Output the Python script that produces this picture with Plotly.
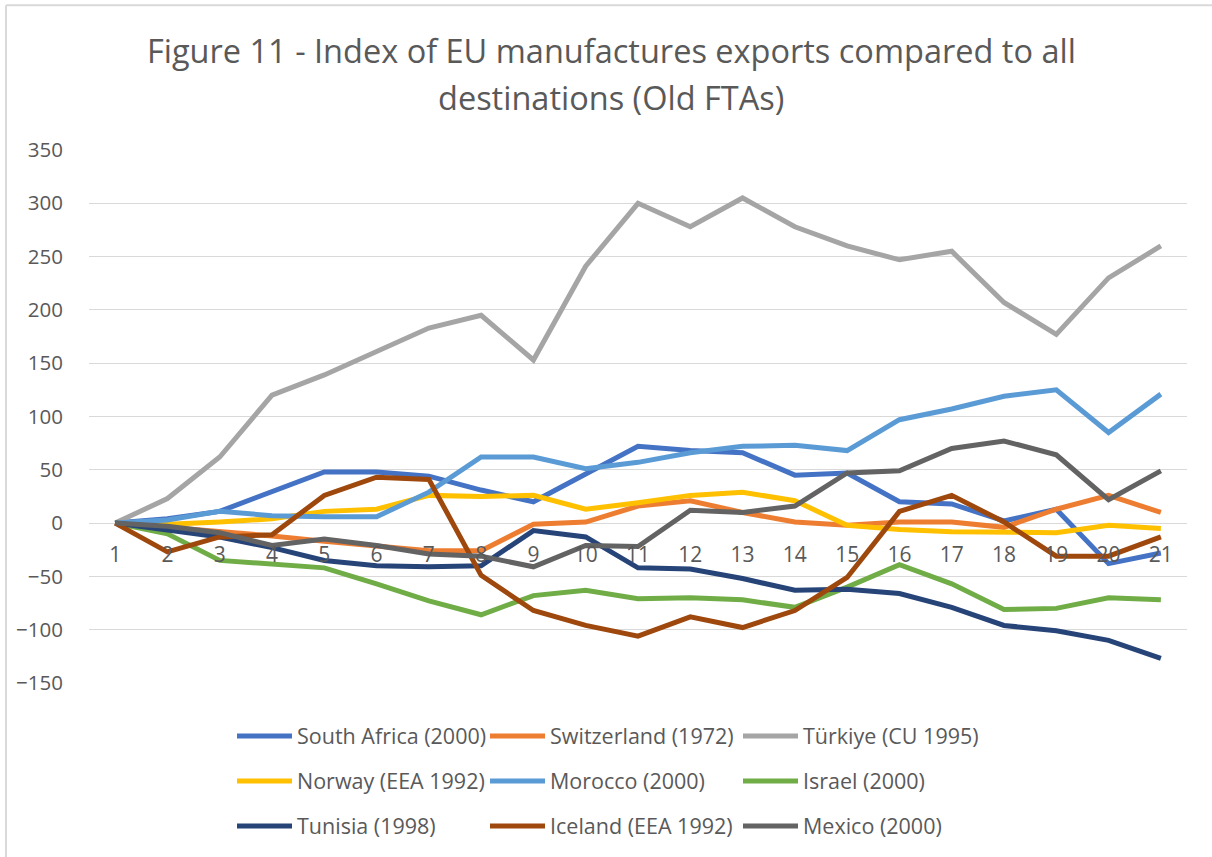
import plotly.graph_objects as go

periods = list(range(1, 22))
tick_labels = [str(p) for p in periods]

south_africa = [0, 4, 11, 29, 48, 48, 44, 31, 20, 46, 72, 68, 66, 45, 47, 20, 18, 2, 13, -38, -28]
switzerland = [0, -4, -7, -12, -17, -21, -26, -26, -1, 1, 16, 21, 10, 1, -2, 1, 1, -4, 13, 26, 10]
turkiye = [0, 23, 62, 120, 139, 161, 183, 195, 153, 241, 300, 278, 305, 278, 260, 247, 255, 207, 177, 230, 260]
norway = [0, -1, 1, 4, 11, 13, 26, 25, 26, 13, 19, 26, 29, 21, -2, -6, -8, -8, -9, -2, -5]
morocco = [0, 3, 11, 7, 6, 6, 29, 62, 62, 51, 57, 66, 72, 73, 68, 97, 107, 119, 125, 85, 121]
israel = [0, -10, -35, -38, -42, -57, -73, -86, -68, -63, -71, -70, -72, -79, -60, -39, -57, -81, -80, -70, -72]
tunisia = [0, -6, -13, -23, -35, -40, -41, -40, -7, -13, -42, -43, -52, -63, -62, -66, -79, -96, -101, -110, -127]
iceland = [0, -27, -13, -11, 26, 43, 41, -49, -82, -96, -106, -88, -98, -82, -51, 11, 26, 1, -31, -31, -13]
mexico = [0, -3, -9, -21, -15, -21, -29, -31, -41, -21, -22, 12, 10, 16, 47, 49, 70, 77, 64, 22, 49]

series = [
    ("South Africa (2000)", south_africa, "#4472C4", "legend"),
    ("Switzerland (1972)", switzerland, "#ED7D31", "legend"),
    ("Türkiye (CU 1995)", turkiye, "#A5A5A5", "legend"),
    ("Norway (EEA 1992)", norway, "#FFC000", "legend2"),
    ("Morocco (2000)", morocco, "#5B9BD5", "legend2"),
    ("Israel (2000)", israel, "#70AD47", "legend2"),
    ("Tunisia (1998)", tunisia, "#264478", "legend3"),
    ("Iceland (EEA 1992)", iceland, "#9E480E", "legend3"),
    ("Mexico (2000)", mexico, "#636363", "legend3"),
]

y_ticks = [-150, -100, -50, 0, 50, 100, 150, 200, 250, 300, 350]

fig = go.Figure()
for name, vals, color, lg in series:
    fig.add_trace(go.Scatter(
        x=periods, y=vals, mode="lines", name=name,
        line=dict(color=color, width=5), legend=lg,
    ))

W, H = 1212, 857
L, R, T, B = 89, 25, 150, 173
ph = H - T - B
pw = W - L - R

def py(px):
    return (H - B - px) / ph

def pxx(px):
    return (px - L) / pw

text_color = "#595959"
font_family = "Open Sans"

legend_common = dict(
    orientation="h", xref="paper", yref="paper", xanchor="left", yanchor="middle",
    font=dict(family=font_family, size=21.5, color=text_color),
    entrywidth=183, entrywidthmode="pixels", itemwidth=55,
    bgcolor="rgba(0,0,0,0)", traceorder="normal",
)

fig.update_layout(
    width=W, height=H,
    margin=dict(l=L, r=R, t=T, b=B, pad=0),
    paper_bgcolor="white", plot_bgcolor="white",
    font=dict(family=font_family, color=text_color),
    showlegend=True,
    legend=dict(legend_common, x=pxx(232), y=py(736)),
    legend2=dict(legend_common, x=pxx(232), y=py(781)),
    legend3=dict(legend_common, x=pxx(232), y=py(826)),
    xaxis=dict(
        range=[0.5, 21.5], tickmode="array", tickvals=periods, ticktext=tick_labels,
        showgrid=False, zeroline=False, showline=False,
        anchor="free", position=150 / 500,
        ticks="outside", ticklen=13, tickcolor="rgba(0,0,0,0)",
        tickfont=dict(family=font_family, size=21, color=text_color),
    ),
    yaxis=dict(
        range=[-150, 350], tickmode="array", tickvals=y_ticks,
        showgrid=True, gridcolor="#D9D9D9", gridwidth=1.3,
        zeroline=False, showline=False,
        ticks="outside", ticklen=21, tickcolor="rgba(0,0,0,0)",
        tickfont=dict(family=font_family, size=20.5, color=text_color),
    ),
    annotations=[
        dict(text="Figure 11 - Index of EU manufactures exports compared to all",
             xref="paper", yref="paper", x=pxx(611), y=py(50), showarrow=False,
             xanchor="center", yanchor="middle",
             font=dict(family=font_family, size=32.5, color=text_color)),
        dict(text="destinations (Old FTAs)",
             xref="paper", yref="paper", x=pxx(611), y=py(97), showarrow=False,
             xanchor="center", yanchor="middle",
             font=dict(family=font_family, size=32.5, color=text_color)),
    ],
    shapes=[
        dict(type="line", xref="paper", yref="paper", x0=pxx(6), x1=pxx(1215), y0=py(5), y1=py(5),
             line=dict(color="#D9D9D9", width=2)),
        dict(type="line", xref="paper", yref="paper", x0=pxx(6), x1=pxx(6), y0=py(5), y1=py(860),
             line=dict(color="#D9D9D9", width=2)),
    ],
)

fig.write_html("out.html")
